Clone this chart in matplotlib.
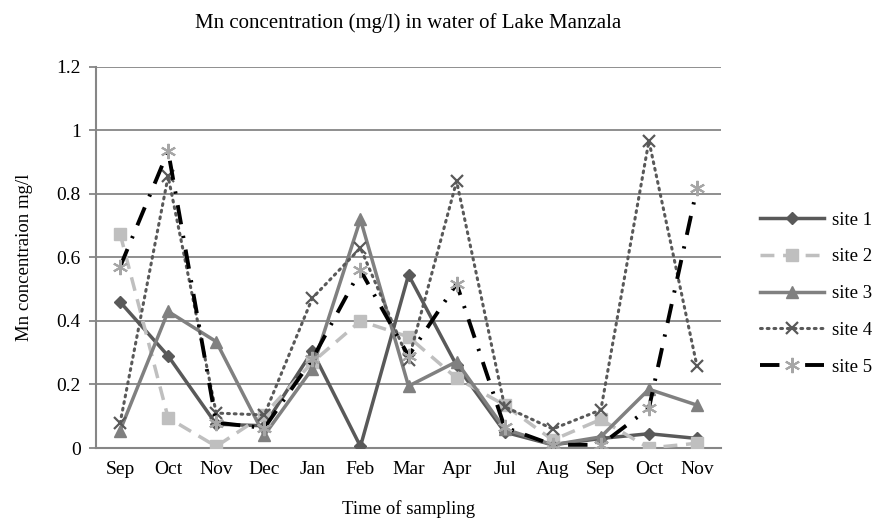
import matplotlib
matplotlib.use("Agg")
import matplotlib.pyplot as plt

plt.rcParams['font.family'] = ['Liberation Serif', 'DejaVu Serif']

months = ['Sep', 'Oct', 'Nov', 'Dec', 'Jan', 'Feb', 'Mar', 'Apr',
          'Jul', 'Aug', 'Sep', 'Oct', 'Nov']

site1 = [0.46, 0.29, 0.075, 0.07, 0.305, 0.005, 0.545, 0.26, 0.05, 0.01, 0.03, 0.045, 0.03]
site2 = [0.675, 0.095, 0.005, 0.105, 0.27, 0.40, 0.35, 0.22, 0.135, 0.025, 0.09, 0.0, 0.015]
site3 = [0.055, 0.43, 0.335, 0.04, 0.25, 0.72, 0.195, 0.272, 0.06, 0.01, 0.035, 0.185, 0.135]
site4 = [0.078, 0.855, 0.11, 0.104, 0.472, 0.63, 0.277, 0.84, 0.13, 0.06, 0.12, 0.967, 0.258]
site5 = [0.57, 0.935, 0.08, 0.063, 0.28, 0.56, 0.29, 0.517, 0.065, 0.01, 0.01, 0.125, 0.818]

x = list(range(len(months)))

fig = plt.figure(figsize=(8.76, 5.31), dpi=100)
ax = fig.add_axes([0.1096, 0.1563, 0.7135, 0.7177])

grid_c = '#868686'
ax.set_ylim(0, 1.2)
ax.set_xlim(-0.5, len(months) - 0.5)
ax.set_yticks([0, 0.2, 0.4, 0.6, 0.8, 1, 1.2])
ax.set_yticklabels(['0', '0.2', '0.4', '0.6', '0.8', '1', '1.2'])
ax.yaxis.grid(True, color=grid_c, lw=1.3)
ax.set_axisbelow(True)
for s in ['top', 'right']:
    ax.spines[s].set_visible(False)
for s in ['left', 'bottom']:
    ax.spines[s].set_color(grid_c)
    ax.spines[s].set_linewidth(1.5)
ax.tick_params(axis='y', colors=grid_c, length=5, width=1.3, labelcolor='black',
               labelsize=14, pad=6)
ax.tick_params(axis='x', length=0, labelsize=14, pad=9)
ax.set_xticks(x)
ax.set_xticklabels(months)

ax.plot(x, site1, color='#595959', lw=2.5, marker='D', ms=6.5,
        label='site 1', zorder=3)
ax.plot(x, site2, color='#bfbfbf', lw=2.5, ls=(0, (4, 2.5)), marker='s', ms=9,
        label='site 2', zorder=3)
ax.plot(x, site3, color='#808080', lw=2.5, marker='^', ms=9,
        label='site 3', zorder=3)
ax.plot(x, site4, color='#595959', lw=2.2, ls=(0, (0.6, 1.6)), marker='x', ms=9,
        mew=1.6, label='site 4', zorder=4, dash_capstyle='round')
ax.plot(x, site5, color='black', lw=2.8, ls=(0, (5, 3, 0.6, 3)), marker=(6, 2, 0),
        ms=11, mec='#a6a6a6', mew=1.5, label='site 5', zorder=4)

ax.set_title('Mn concentration (mg/l) in water of Lake Manzala', fontsize=15, pad=28)
ax.set_ylabel('Mn concentraion mg/l', fontsize=13.5, labelpad=17)
ax.set_xlabel('Time of sampling', fontsize=13.5, labelpad=16)

ax.legend(loc='center left', bbox_to_anchor=(1.036, 0.405), frameon=False,
          fontsize=13.5, handlelength=3.4, labelspacing=1.05, handletextpad=0.4)

fig.savefig('out.png', dpi=100)
